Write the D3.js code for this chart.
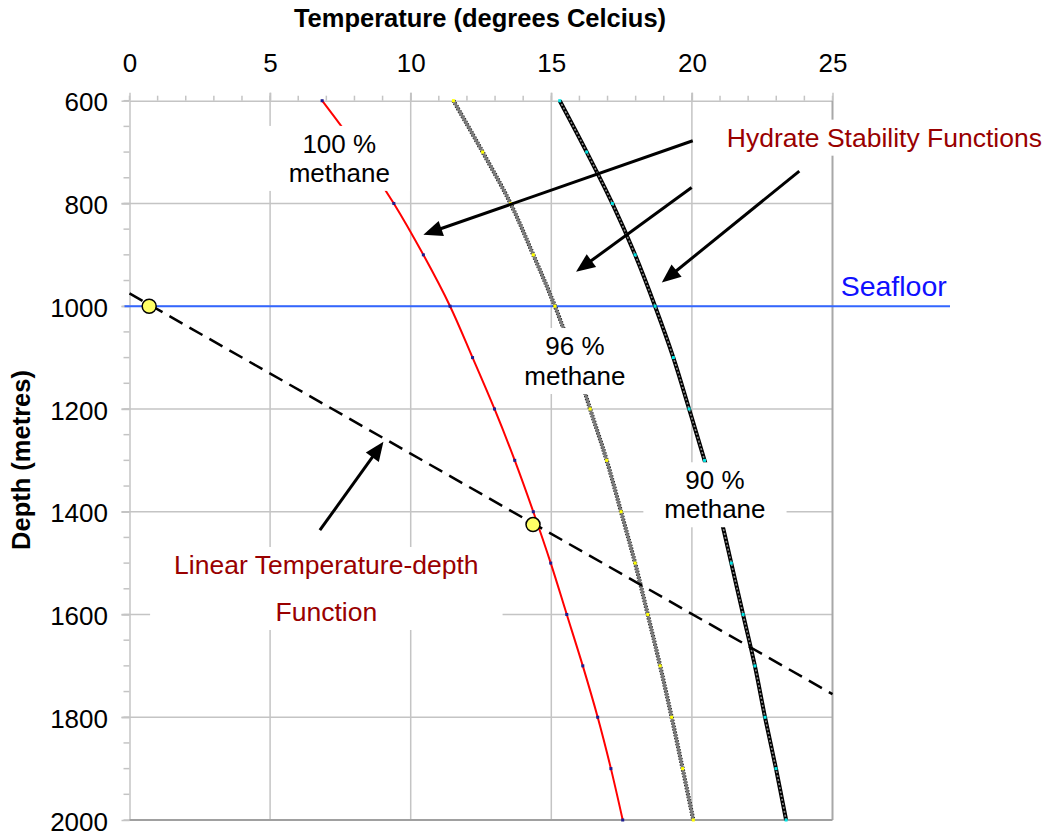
<!DOCTYPE html>
<meta charset="utf-8">
<script src="https://d3js.org/d3.v7.min.js"></script>
<style>
  body { margin: 0; background: #fff; }
  text { font-family: "Liberation Sans", Arial, sans-serif; }
</style>
<body>
<svg width="1048" height="835"></svg>
<script>
// depth (m) at which each hydrate stability temperature was read
var depths = [600, 700, 800, 900, 1000, 1100, 1200, 1300, 1400, 1500, 1600, 1700, 1800, 1900, 2000];
// temperatures (deg C) of the three stability curves
var methane100 = [6.85, 8.2, 9.4, 10.45, 11.4, 12.2, 12.98, 13.7, 14.36, 14.98, 15.55, 16.12, 16.65, 17.12, 17.54];
var methane96  = [11.52, 12.56, 13.55, 14.36, 15.13, 15.8, 16.38, 16.97, 17.48, 17.98, 18.43, 18.87, 19.28, 19.67, 20.05];
var methane90  = [15.3, 16.26, 17.17, 17.98, 18.69, 19.34, 19.9, 20.45, 20.97, 21.4, 21.82, 22.24, 22.6, 22.99, 23.35];

// linear temperature-depth function (end points) and its marked points
var gradientT = [0, 25];
var gradientDepth = [975, 1755];
var pointT = [0.7, 14.35];
var pointDepth = [1000, 1425];
var seafloorDepth = 1000;

var tempTicks = [0, 5, 10, 15, 20, 25];
var depthTicks = [600, 800, 1000, 1200, 1400, 1600, 1800, 2000];

var svg = d3.select("svg");
var font = "'Liberation Sans', Arial, sans-serif";

var x = d3.scaleLinear().domain([0, 25]).range([129.5, 832.5]);
var y = d3.scaleLinear().domain([600, 2000]).range([100.7, 820]);

var grid = "#c4c4c4";

// grid lines
svg.append("g").selectAll("line")
  .data(tempTicks.slice(1, -1))
  .enter().append("line")
  .attr("x1", function(d) { return x(d); }).attr("x2", function(d) { return x(d); })
  .attr("y1", y(600) - 8).attr("y2", y(2000))
  .attr("stroke", grid).attr("stroke-width", 1.5);

svg.append("g").selectAll("line")
  .data(depthTicks.slice(1, -1))
  .enter().append("line")
  .attr("x1", x(0) - 8).attr("x2", x(25))
  .attr("y1", function(d) { return y(d); }).attr("y2", function(d) { return y(d); })
  .attr("stroke", grid).attr("stroke-width", 1.5);

// minor ticks
svg.append("g").selectAll("line")
  .data(x.ticks(25))
  .enter().append("line")
  .attr("x1", function(d) { return x(d); }).attr("x2", function(d) { return x(d); })
  .attr("y1", y(600) - 5).attr("y2", y(600))
  .attr("stroke", grid).attr("stroke-width", 1.5);

svg.append("g").selectAll("line")
  .data(d3.range(600, 2001, 50))
  .enter().append("line")
  .attr("x1", x(0) - 6).attr("x2", x(0))
  .attr("y1", function(d) { return y(d); }).attr("y2", function(d) { return y(d); })
  .attr("stroke", grid).attr("stroke-width", 1.5);

// axes
var xAxis = svg.append("g")
  .attr("transform", "translate(0," + y(600) + ")")
  .call(d3.axisTop(x).tickValues(tempTicks).tickSize(8).tickPadding(20.5).tickSizeOuter(0));
xAxis.attr("font-family", font).attr("font-size", 26);
xAxis.select(".domain").attr("stroke", grid).attr("stroke-width", 1.5);
xAxis.selectAll(".tick line").attr("stroke", grid).attr("stroke-width", 1.5);
xAxis.selectAll(".tick text").attr("fill", "#000");

var yAxis = svg.append("g")
  .attr("transform", "translate(" + x(0) + ",0)")
  .call(d3.axisLeft(y).tickValues(depthTicks).tickFormat(d3.format("d"))
    .tickSize(8).tickPadding(13.5).tickSizeOuter(0));
yAxis.attr("font-family", font).attr("font-size", 26);
yAxis.select(".domain").attr("stroke", grid).attr("stroke-width", 1.5);
yAxis.selectAll(".tick line").attr("stroke", grid).attr("stroke-width", 1.5);
yAxis.selectAll(".tick text").attr("fill", "#000").attr("dy", "0.39em");

// right and bottom border
svg.append("line")
  .attr("x1", x(25)).attr("x2", x(25)).attr("y1", y(600)).attr("y2", y(2000))
  .attr("stroke", "#a8a8a8").attr("stroke-width", 2);
svg.append("line")
  .attr("x1", x(0)).attr("x2", x(25)).attr("y1", y(2000)).attr("y2", y(2000))
  .attr("stroke", "#a0a0a0").attr("stroke-width", 2);

// axis titles
svg.append("text")
  .attr("x", 480).attr("y", 27)
  .attr("text-anchor", "middle")
  .attr("font-size", 25.5).attr("font-weight", "bold")
  .text("Temperature (degrees Celcius)");

svg.append("text")
  .attr("transform", "translate(30,460) rotate(-90)")
  .attr("text-anchor", "middle")
  .attr("font-size", 25.5).attr("font-weight", "bold")
  .text("Depth (metres)");

// seafloor
svg.append("line")
  .attr("x1", x(0) - 5).attr("x2", 950)
  .attr("y1", y(seafloorDepth)).attr("y2", y(seafloorDepth))
  .attr("stroke", "#3366ff").attr("stroke-width", 2);

// stability curves
var line = d3.line()
  .x(function(d) { return x(d[0]); })
  .y(function(d) { return y(d[1]); })
  .curve(d3.curveCatmullRom);

function pairs(temps) { return temps.map(function(t, i) { return [t, depths[i]]; }); }

svg.append("path").datum(pairs(methane100)).attr("d", line)
  .attr("fill", "none").attr("stroke", "#ff0000").attr("stroke-width", 2);

svg.append("path").datum(pairs(methane96)).attr("d", line)
  .attr("fill", "none").attr("stroke", "#111").attr("stroke-width", 4.2).attr("stroke-dasharray", "1.5,1.5");
svg.append("path").datum(pairs(methane96)).attr("d", line)
  .attr("fill", "none").attr("stroke", "#7a7a7a").attr("stroke-width", 2.8);

svg.append("path").datum(pairs(methane90)).attr("d", line)
  .attr("fill", "none").attr("stroke", "#000").attr("stroke-width", 4);
svg.append("path").datum(pairs(methane90)).attr("d", line)
  .attr("fill", "none").attr("stroke", "#8a8a8a").attr("stroke-width", 1.6).attr("stroke-dasharray", "2,2");

// point markers
[[methane100, "#1c1c90"], [methane96, "#ffff00"], [methane90, "#00e5e5"]].forEach(function(s) {
  svg.append("g").selectAll("rect")
    .data(pairs(s[0]))
    .enter().append("rect")
    .attr("x", function(d) { return x(d[0]) - 1.5; })
    .attr("y", function(d) { return y(d[1]) - 1.5; })
    .attr("width", 3).attr("height", 3)
    .attr("fill", s[1]);
});

// linear temperature-depth function
svg.append("line")
  .attr("x1", x(gradientT[0])).attr("y1", y(gradientDepth[0]))
  .attr("x2", x(gradientT[1])).attr("y2", y(gradientDepth[1]))
  .attr("stroke", "#000").attr("stroke-width", 2.5).attr("stroke-dasharray", "15,8");

// arrows (tail -> head, in data units)
var arrows = [
  {t0: 20.03, d0: 678, t1: 10.45, d1: 861},
  {t0: 19.99, d0: 769, t1: 15.88, d1: 933},
  {t0: 23.82, d0: 737, t1: 18.93, d1: 954},
  {t0: 6.77, d0: 1436, t1: 9.03, d1: 1264}
];
arrows.forEach(function(a) {
  var x1 = x(a.t0), y1 = y(a.d0), x2 = x(a.t1), y2 = y(a.d1);
  var ang = Math.atan2(y2 - y1, x2 - x1), L = 19, W = 8;
  var c = Math.cos(ang), s = Math.sin(ang);
  svg.append("line")
    .attr("x1", x1).attr("y1", y1)
    .attr("x2", x2 - c * L * 0.8).attr("y2", y2 - s * L * 0.8)
    .attr("stroke", "#000").attr("stroke-width", 3);
  svg.append("path")
    .attr("d", "M" + x2 + "," + y2 +
      "L" + (x2 - c * L + s * W) + "," + (y2 - s * L - c * W) +
      "L" + (x2 - c * L - s * W) + "," + (y2 - s * L + c * W) + "Z")
    .attr("fill", "#000");
});

// labels with white boxes
var labels = [
  {lines: ["100 %", "methane"], t: 7.46, d: 701.6, gap: 29, color: "#000", anchor: "middle", size: 26, padX: 20},
  {lines: ["96 %", "methane"], t: 15.84, d: 1095, gap: 30, color: "#000", anchor: "middle", size: 26, padX: 10},
  {lines: ["90 %", "methane"], t: 20.82, d: 1356.3, gap: 29, color: "#000", anchor: "middle", size: 26, padX: 21},
  {lines: ["Linear Temperature-depth", "Function"], t: 7.0, d: 1521.2, gap: 47, color: "#990000", anchor: "middle", size: 26.5, padX: 24},
  {lines: ["Hydrate Stability Functions"], t: 21.24, d: 689.5, gap: 0, color: "#990000", anchor: "start", size: 26.5, padX: 12},
  {lines: ["Seafloor"], t: 25.29, d: 980, gap: 0, color: "#1010ff", anchor: "start", size: 28.5, padX: 0}
];
labels.forEach(function(l) {
  var lg = svg.append("g");
  var box = lg.append("rect").attr("fill", "#fff");
  l.lines.forEach(function(s, i) {
    lg.append("text")
      .attr("x", x(l.t)).attr("y", y(l.d) + i * l.gap)
      .attr("text-anchor", l.anchor)
      .attr("font-size", l.size)
      .attr("fill", l.color)
      .text(s);
  });
  if (l.padX > 0) {
    var bb = lg.node().getBBox();
    box.attr("x", bb.x - l.padX).attr("y", bb.y - 3)
      .attr("width", bb.width + 2 * l.padX).attr("height", bb.height + 6);
  }
});

// intersection points
svg.append("g").selectAll("circle")
  .data(pointT.map(function(t, i) { return [t, pointDepth[i]]; }))
  .enter().append("circle")
  .attr("cx", function(d) { return x(d[0]); })
  .attr("cy", function(d) { return y(d[1]); })
  .attr("r", 7)
  .attr("fill", "#ffff66")
  .attr("stroke", "#000").attr("stroke-width", 1.5);
</script>
</body>
